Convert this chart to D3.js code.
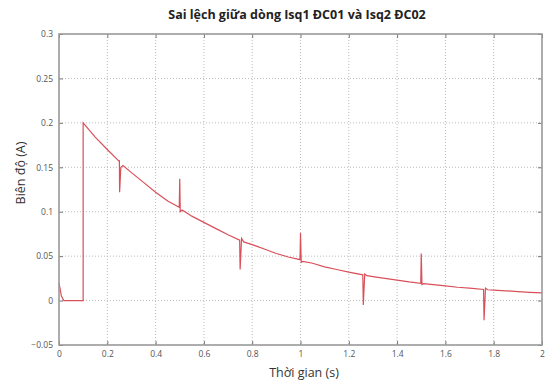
<!DOCTYPE html>
<html>
<head>
<meta charset="utf-8">
<script src="https://cdn.jsdelivr.net/npm/d3@7/dist/d3.min.js"></script>
<style>
  body { margin: 0; background: #fff; }
  svg { display: block; }
  .grid line { stroke: #bbb; stroke-dasharray: 1 2; }
  .tick-lbl { font-family: "Open Sans", sans-serif; font-size: 8.5px; fill: #555; }
</style>
</head>
<body>
<svg id="chart" width="545" height="385"></svg>
<script>
// thời gian (s) và sai lệch (A)
var time = [0, 0.004, 0.01, 0.02, 0.1, 0.1,
  0.15, 0.2, 0.248, 0.25, 0.251, 0.256, 0.265, 0.3, 0.35, 0.4, 0.45,
  0.498, 0.5, 0.502, 0.51, 0.55, 0.6, 0.65, 0.7,
  0.748, 0.75, 0.756, 0.765, 0.8, 0.85, 0.9, 0.95,
  0.998, 1.0, 1.003, 1.01, 1.05, 1.1, 1.15, 1.2,
  1.258, 1.26, 1.266, 1.275, 1.3, 1.35, 1.4, 1.45,
  1.498, 1.5, 1.503, 1.51, 1.55, 1.6, 1.65, 1.7,
  1.758, 1.76, 1.766, 1.775, 1.8, 1.85, 1.9, 1.95, 2.0];
var diff = [0.02, 0.014, 0.005, 0, 0, 0.2,
  0.184, 0.17, 0.157, 0.158, 0.122, 0.15, 0.152, 0.144, 0.133, 0.122, 0.112,
  0.105, 0.137, 0.1, 0.102, 0.095, 0.088, 0.081, 0.074,
  0.068, 0.035, 0.07, 0.066, 0.063, 0.058, 0.053, 0.049,
  0.046, 0.076, 0.043, 0.044, 0.042, 0.038, 0.035, 0.032,
  0.029, -0.005, 0.03, 0.028, 0.027, 0.025, 0.023, 0.021,
  0.0195, 0.053, 0.018, 0.019, 0.018, 0.0165, 0.015, 0.014,
  0.0125, -0.022, 0.014, 0.0122, 0.0118, 0.011, 0.01, 0.0093, 0.0086];

var xTicks = [0, 0.2, 0.4, 0.6, 0.8, 1, 1.2, 1.4, 1.6, 1.8, 2];
var yTicks = [-0.05, 0, 0.05, 0.1, 0.15, 0.2, 0.25, 0.3];

var svg = d3.select("#chart");
var m = { left: 59, right: 542, top: 34, bottom: 345 };

var x = d3.scaleLinear().domain([0, 2]).range([m.left, m.right]);
var y = d3.scaleLinear().domain([-0.05, 0.3]).range([m.bottom, m.top]);

// lưới
var grid = svg.append("g").attr("class", "grid");
grid.selectAll(".gx").data(xTicks.slice(1, -1)).enter().append("line")
  .attr("x1", d => x(d)).attr("x2", d => x(d))
  .attr("y1", m.top).attr("y2", m.bottom);
grid.selectAll(".gy").data(yTicks.slice(1, -1)).enter().append("line")
  .attr("y1", d => y(d)).attr("y2", d => y(d))
  .attr("x1", m.left).attr("x2", m.right);

// đường sai lệch
var line = d3.line().x((d, i) => x(time[i])).y(d => y(d));
svg.append("path").datum(diff)
  .attr("d", line)
  .attr("fill", "none")
  .attr("stroke", "#d9505a")
  .attr("stroke-width", 1.2);

// trục + khung
var ax = svg.append("g");
ax.append("g").attr("transform", "translate(0," + m.bottom + ")")
  .call(d3.axisBottom(x).tickValues(xTicks).tickSize(-4).tickPadding(6).tickFormat(d3.format("~g")));
ax.append("g").attr("transform", "translate(0," + m.top + ")")
  .call(d3.axisTop(x).tickValues(xTicks).tickSize(-4).tickFormat(""));
ax.append("g").attr("transform", "translate(" + m.left + ",0)")
  .call(d3.axisLeft(y).tickValues(yTicks).tickSize(-4).tickPadding(6).tickFormat(d3.format("~g")));
ax.append("g").attr("transform", "translate(" + m.right + ",0)")
  .call(d3.axisRight(y).tickValues(yTicks).tickSize(-4).tickFormat(""));
ax.selectAll(".domain").remove();
ax.selectAll(".tick line").attr("stroke", "#777");
ax.selectAll(".tick text").attr("class", "tick-lbl").attr("font-family", null).attr("font-size", null);

svg.append("rect")
  .attr("x", m.left).attr("y", m.top)
  .attr("width", m.right - m.left).attr("height", m.bottom - m.top)
  .attr("fill", "none").attr("stroke", "#999").attr("stroke-width", 1.6);

// tiêu đề, nhãn trục
svg.append("text")
  .attr("x", 297).attr("y", 19)
  .attr("text-anchor", "middle")
  .attr("font-family", "Open Sans, sans-serif").attr("font-weight", "bold").attr("font-size", 12.5)
  .attr("fill", "#222")
  .text("Sai lệch giữa dòng Isq1 ĐC01 và Isq2 ĐC02");

svg.append("text")
  .attr("x", 304).attr("y", 377)
  .attr("text-anchor", "middle")
  .attr("font-family", "Open Sans, sans-serif").attr("font-size", 12.5)
  .attr("fill", "#333")
  .text("Thời gian (s)");

svg.append("text")
  .attr("transform", "translate(25,173) rotate(-90)")
  .attr("text-anchor", "middle")
  .attr("font-family", "Open Sans, sans-serif").attr("font-size", 12.5)
  .attr("fill", "#333")
  .text("Biên độ (A)");
</script>
</body>
</html>
